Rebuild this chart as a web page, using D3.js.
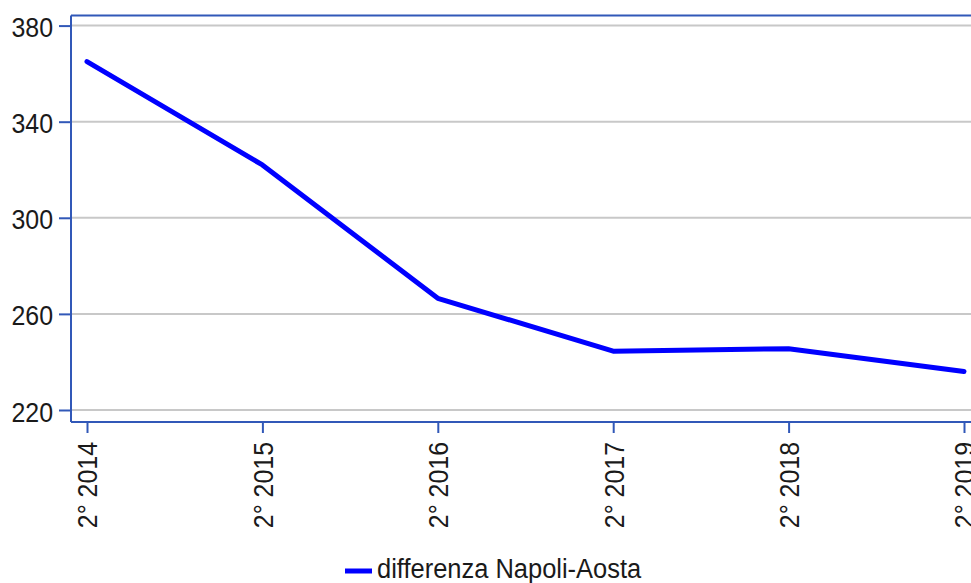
<!DOCTYPE html>
<html><head><meta charset="utf-8">
<script src="https://cdn.jsdelivr.net/npm/d3@7"></script>
<style>body{margin:0;background:#fff;}svg{display:block;}</style>
</head><body>
<svg id="c" width="971" height="583"></svg>
<script>
const categories = ["2° 2014","2° 2015","2° 2016","2° 2017","2° 2018","2° 2019"];
const values = [365, 322, 266.5, 244.5, 245.5, 236];
const yTicks = [220, 260, 300, 340, 380];
const seriesName = "differenza Napoli-Aosta";

const svg = d3.select("#c");
const font = "'Liberation Sans', Arial, sans-serif";
const fs = "28px";
const sx = 0.89;
const axisColor = "#3158b8";
const textColor = "#1a1a1a";
const x = d3.scaleLinear().domain([0, categories.length - 1]).range([87, 964]);
const y = d3.scaleLinear().domain([215, 384.2]).range([422, 15.5]);
const left = 71, right = 975;

// gridlines
svg.append("g").selectAll("line").data(yTicks).join("line")
  .attr("x1", left).attr("x2", right)
  .attr("y1", d => y(d)).attr("y2", d => y(d))
  .attr("stroke", "#c8c8c8").attr("stroke-width", 2);

// frame top
svg.append("line").attr("x1", left).attr("x2", right).attr("y1", 15.5).attr("y2", 15.5)
  .attr("stroke", axisColor).attr("stroke-width", 2);

// y axis
const yAxis = svg.append("g").attr("transform", `translate(${left},0)`)
  .call(d3.axisLeft(y).tickValues(yTicks).tickSize(12).tickFormat(d3.format("d")));
yAxis.select(".domain").attr("d", `M0,15.5V422`).attr("stroke", axisColor).attr("stroke-width", 2);
yAxis.selectAll(".tick line").attr("stroke", axisColor).attr("stroke-width", 2);
yAxis.selectAll(".tick text")
  .attr("fill", textColor).style("font-family", font).style("font-size", fs)
  .attr("x", 0).attr("dy", "0.36em").attr("text-anchor", "end")
  .attr("transform", `translate(-18,1) scale(${sx},1)`);

// x axis
const xAxis = svg.append("g").attr("transform", `translate(0,422)`)
  .call(d3.axisBottom(x).tickValues(d3.range(categories.length)).tickSize(11).tickFormat(i => categories[i]));
xAxis.select(".domain").attr("d", `M${left},0H${right}`).attr("stroke", axisColor).attr("stroke-width", 2);
xAxis.selectAll(".tick line").attr("stroke", axisColor).attr("stroke-width", 2);
xAxis.selectAll(".tick text")
  .attr("fill", textColor).style("font-family", font).style("font-size", fs)
  .attr("x", 0).attr("y", 0).attr("dy", "0.35em")
  .attr("text-anchor", "end")
  .attr("transform", `rotate(-90) translate(-20,0) scale(${sx},1)`);

// line
svg.append("path").datum(values)
  .attr("fill", "none").attr("stroke", "#0000ff").attr("stroke-width", 5)
  .attr("stroke-linejoin", "round").attr("stroke-linecap", "round")
  .attr("d", d3.line().x((d, i) => x(i)).y(d => y(d)));

// legend
const lg = svg.append("g");
lg.append("line").attr("x1", 345).attr("x2", 372).attr("y1", 571).attr("y2", 571)
  .attr("stroke", "#0000ff").attr("stroke-width", 5);
lg.append("text").attr("transform", `translate(377,578) scale(${sx + 0.02},1)`).text(seriesName)
  .attr("fill", textColor).style("font-family", font).style("font-size", fs);
</script>
</body></html>
